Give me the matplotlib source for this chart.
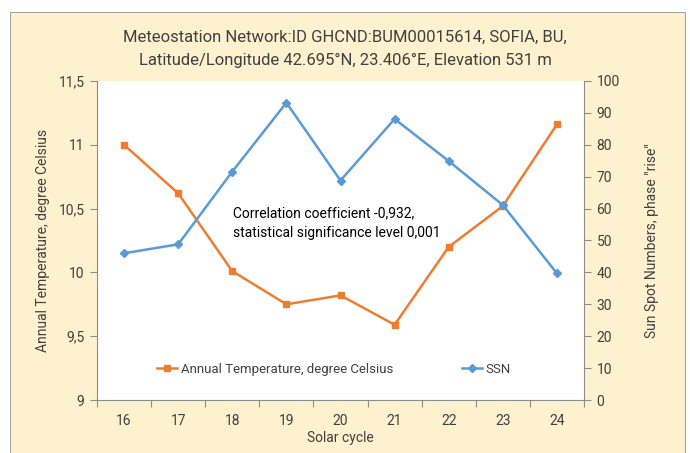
import matplotlib.pyplot as plt
from matplotlib.patches import Rectangle

plt.rcParams['font.family'] = ['Roboto', 'DejaVu Sans']

# Данные
cycles = ['16', '17', '18', '19', '20', '21', '22', '23', '24']
temperature = [11.0, 10.62, 10.01, 9.75, 9.82, 9.59, 10.2, 10.52, 11.16]
ssn = [46.0, 48.8, 71.6, 93.2, 68.8, 88.1, 74.9, 61.1, 39.7]

orange = '#ED7D31'
blue = '#5B9BD5'
txt = '#404040'
gray = '#8C8C8C'

fig = plt.figure(figsize=(6.9, 4.53), dpi=100)
fig.patch.set_facecolor('white')

# Кремовая рамка диаграммы
frame = Rectangle((10 / 690, -0.01), 675 / 690, (453 - 12) / 453 + 0.01,
                  transform=fig.transFigure, facecolor='#FDF1CE',
                  edgecolor='#A6A6A6', linewidth=0.8, zorder=-10)
fig.patches.append(frame)

ax1 = fig.add_axes([97 / 690, 53 / 453, 487 / 690, 319 / 453])
ax1.set_facecolor('white')
x = list(range(len(cycles)))
l1, = ax1.plot(x, temperature, color=orange, marker='s', markersize=5,
               linewidth=1.8, label='Annual Temperature, degree Celsius')
ax1.set_ylim(9, 11.5)
ax1.set_xlim(-0.5, len(cycles) - 0.5)
ax1.set_yticks([9, 9.5, 10, 10.5, 11, 11.5])
ax1.set_yticklabels(['9', '9,5', '10', '10,5', '11', '11,5'])
ax1.set_xticks([i + 0.5 for i in range(-1, len(cycles))])
ax1.set_xticklabels([])
ax1.set_xticks(x, minor=True)
ax1.set_xticklabels(cycles, minor=True)
ax1.tick_params(axis='x', which='minor', length=0, pad=10, labelsize=10, labelcolor=txt)
ax1.tick_params(axis='x', which='major', length=5, color=gray)
ax1.tick_params(axis='y', length=5, color=gray, labelsize=10, labelcolor=txt, pad=4)
ax1.set_ylabel('Annual Temperature, degree Celsius', fontsize=10, color=txt, labelpad=6)
ax1.set_xlabel('Solar cycle', fontsize=10, color=txt, labelpad=2)
for s in ['top', 'right']:
    ax1.spines[s].set_visible(False)
for s in ['left', 'bottom']:
    ax1.spines[s].set_color(gray)

ax2 = ax1.twinx()
l2, = ax2.plot(x, ssn, color=blue, marker='D', markersize=4,
               linewidth=1.8, label='SSN')
ax2.set_ylim(0, 100)
ax2.set_yticks(range(0, 101, 10))
ax2.tick_params(axis='y', length=5, color=gray, labelsize=10, labelcolor=txt, pad=4)
ax2.set_ylabel('Sun Spot Numbers, phase "rise"', fontsize=10, color=txt, labelpad=18)
for s in ['top', 'left', 'bottom']:
    ax2.spines[s].set_visible(False)
ax2.spines['right'].set_color(gray)

ax2.text(0.279, 0.555, 'Correlation coefficient -0,932,\nstatistical significance level 0,001',
         transform=ax1.transAxes, fontsize=10, color='black', linespacing=1.5, va='center')

ax2.legend([l1, l2], [l1.get_label(), l2.get_label()], ncol=2, frameon=False,
           loc='center', bbox_to_anchor=(0.487, 0.097), fontsize=9.5,
           columnspacing=5.2, handlelength=1.5, handletextpad=0.3, labelcolor=txt)

fig.text(0.5, 1 - 37 / 453, 'Meteostation Network:ID GHCND:BUM00015614, SOFIA, BU,',
         ha='center', va='center', fontsize=12, color=txt)
fig.text(0.5, 1 - 60 / 453, 'Latitude/Longitude 42.695°N, 23.406°E, Elevation 531 m',
         ha='center', va='center', fontsize=12, color=txt)

fig.savefig('out.png', dpi=100)
